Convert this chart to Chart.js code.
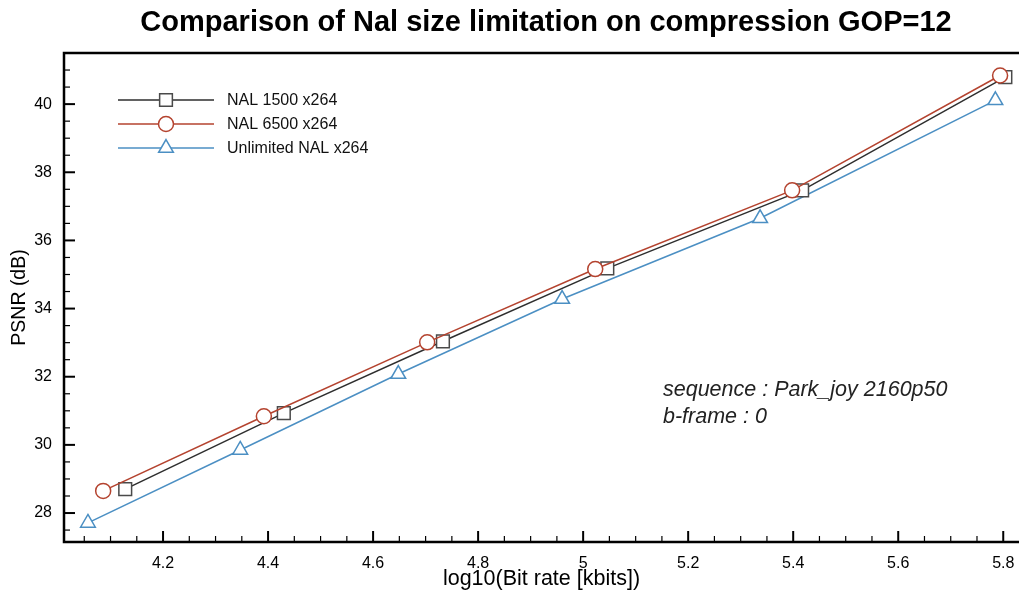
<!DOCTYPE html>
<html>
<head>
<meta charset="utf-8">
<script src="https://cdn.jsdelivr.net/npm/chart.js@4.4.1/dist/chart.umd.min.js"></script>
<style>
  html, body { margin: 0; padding: 0; background: #fff; }
  #wrap { width: 1019px; height: 601px; }
</style>
</head>
<body>
<div id="wrap"><canvas id="c" width="1019" height="601"></canvas></div>
<script>
const chartTitle = 'Comparison of Nal size limitation on compression GOP=12';
const xAxisTitle = 'log10(Bit rate [kbits])';
const yAxisTitle = 'PSNR (dB)';
const seriesNames = ['NAL 1500 x264', 'NAL 6500 x264', 'Unlimited NAL x264'];
const annotationLines = ['sequence : Park_joy 2160p50', 'b-frame : 0'];

const bitrate1500 = [4.128, 4.430, 4.733, 5.046, 5.417, 5.804];
const psnr1500    = [28.70, 30.93, 33.04, 35.18, 37.47, 40.79];
const bitrate6500 = [4.086, 4.392, 4.703, 5.023, 5.398, 5.794];
const psnr6500    = [28.65, 30.84, 33.01, 35.16, 37.47, 40.84];
const bitrateUnl  = [4.057, 4.347, 4.648, 4.960, 5.337, 5.785];
const psnrUnl     = [27.71, 29.85, 32.08, 34.28, 36.65, 40.11];

const xTicks = [4.2, 4.4, 4.6, 4.8, 5.0, 5.2, 5.4, 5.6, 5.8];
const yTicks = [28, 30, 32, 34, 36, 38, 40];
const xMinorStep = 0.05;
const yMinorStep = 0.5;

const toPts = (xs, ys) => xs.map((x, i) => ({x: x, y: ys[i]}));

const colors = ['#2e2e2e', '#b4432f', '#4b8fc3'];
const markerColors = ['#4a4a4a', '#b4432f', '#4b8fc3'];
const styles = ['rect', 'circle', 'triangle'];
const radii = [9, 7.5, 8.5];

const FONT = '"Liberation Sans", Arial, Helvetica, sans-serif';

const decoPlugin = {
  id: 'deco',
  afterDraw(chart) {
    const ctx = chart.ctx;
    const a = chart.chartArea;
    const xs = chart.scales.x, ys = chart.scales.y;
    ctx.save();
    ctx.strokeStyle = '#000';
    const xmin = xs.min, xmax = xs.max, ymin = ys.min, ymax = ys.max;
    for (let v = Math.ceil(xmin / xMinorStep) * xMinorStep; v <= xmax; v += xMinorStep) {
      const vv = Math.round(v * 1000) / 1000;
      const major = xTicks.some(t => Math.abs(t - vv) < 1e-6);
      const px = xs.getPixelForValue(vv);
      ctx.lineWidth = major ? 2 : 1.2;
      ctx.beginPath();
      ctx.moveTo(px, a.bottom);
      ctx.lineTo(px, a.bottom - (major ? 11 : 6));
      ctx.stroke();
    }
    for (let v = Math.ceil(ymin / yMinorStep) * yMinorStep; v <= ymax; v += yMinorStep) {
      const vv = Math.round(v * 1000) / 1000;
      const major = yTicks.some(t => Math.abs(t - vv) < 1e-6);
      const py = ys.getPixelForValue(vv);
      ctx.lineWidth = major ? 2 : 1.2;
      ctx.beginPath();
      ctx.moveTo(a.left, py);
      ctx.lineTo(a.left + (major ? 11 : 6), py);
      ctx.stroke();
    }
    ctx.lineWidth = 2.5;
    ctx.strokeStyle = '#000';
    ctx.beginPath();
    ctx.moveTo(a.right + 5, a.top);
    ctx.lineTo(a.left, a.top);
    ctx.lineTo(a.left, a.bottom);
    ctx.lineTo(a.right + 5, a.bottom);
    ctx.stroke();

    ctx.fillStyle = '#000';
    ctx.font = 'bold 29px ' + FONT;
    ctx.textAlign = 'center';
    ctx.textBaseline = 'middle';
    ctx.fillText(chartTitle, 546, 23);

    const rowsY = [100, 124, 148];
    ctx.textAlign = 'left';
    ctx.font = '16px ' + FONT;
    for (let i = 0; i < 3; i++) {
      const y = rowsY[i];
      ctx.strokeStyle = colors[i];
      ctx.lineWidth = 1.5;
      ctx.beginPath();
      ctx.moveTo(118, y);
      ctx.lineTo(214, y);
      ctx.stroke();
      ctx.fillStyle = '#fff';
      ctx.strokeStyle = markerColors[i];
      ctx.lineWidth = 1.5;
      Chart.helpers.drawPoint(ctx, {pointStyle: styles[i], radius: radii[i], rotation: 0, borderWidth: 1.5}, 166, y);
      ctx.fillStyle = '#111';
      ctx.fillText(seriesNames[i], 227, y + 1);
    }

    ctx.font = 'italic 21.5px ' + FONT;
    ctx.fillStyle = '#222';
    ctx.textBaseline = 'middle';
    ctx.fillText(annotationLines[0], 663, 390);
    ctx.fillText(annotationLines[1], 663, 417);
    ctx.restore();
  }
};

const mk = (i, xsArr, ysArr, order) => ({
  label: seriesNames[i],
  data: toPts(xsArr, ysArr),
  showLine: true,
  borderColor: colors[i],
  borderWidth: 1.5,
  pointStyle: styles[i],
  pointRadius: radii[i],
  pointHoverRadius: radii[i],
  pointBorderWidth: 1.5,
  pointBorderColor: markerColors[i],
  pointBackgroundColor: '#fff',
  tension: 0,
  order: order
});

new Chart(document.getElementById('c'), {
  type: 'scatter',
  data: {
    datasets: [
      mk(0, bitrate1500, psnr1500, 1),
      mk(1, bitrate6500, psnr6500, 0),
      mk(2, bitrateUnl, psnrUnl, 2)
    ]
  },
  options: {
    responsive: false,
    animation: false,
    devicePixelRatio: 1,
    layout: { autoPadding: false, padding: { top: 53, left: 0, right: 0, bottom: 0 } },
    plugins: { legend: { display: false }, tooltip: { enabled: false }, title: { display: false } },
    scales: {
      x: {
        type: 'linear',
        min: 4.0114,
        max: 5.830,
        grid: { display: false, drawTicks: false },
        border: { display: false },
        afterBuildTicks: (s) => { s.ticks = xTicks.map(v => ({value: v})); },
        afterFit: (s) => { s.height = 59; s.paddingLeft = 0; s.paddingRight = 0; },
        ticks: {
          autoSkip: false, maxRotation: 0, padding: 12,
          color: '#000',
          font: { family: FONT, size: 16 },
          callback: (v) => String(Math.round(v * 10) / 10)
        },
        title: {
          display: true, text: xAxisTitle, color: '#000',
          font: { family: FONT, size: 21.5 }, padding: { top: 0, bottom: 9 }
        }
      },
      y: {
        type: 'linear',
        min: 27.15,
        max: 41.5,
        grid: { display: false, drawTicks: false },
        border: { display: false },
        afterBuildTicks: (s) => { s.ticks = yTicks.map(v => ({value: v})); },
        afterFit: (s) => { s.width = 64; s.paddingTop = 0; s.paddingBottom = 0; },
        ticks: {
          autoSkip: false, padding: 12,
          color: '#000',
          font: { family: FONT, size: 16 },
          callback: (v) => String(v)
        },
        title: {
          display: true, text: yAxisTitle, color: '#000',
          font: { family: FONT, size: 19.5 }, padding: { top: 8, bottom: 0 }
        }
      }
    }
  },
  plugins: [decoPlugin]
});
</script>
</body>
</html>
